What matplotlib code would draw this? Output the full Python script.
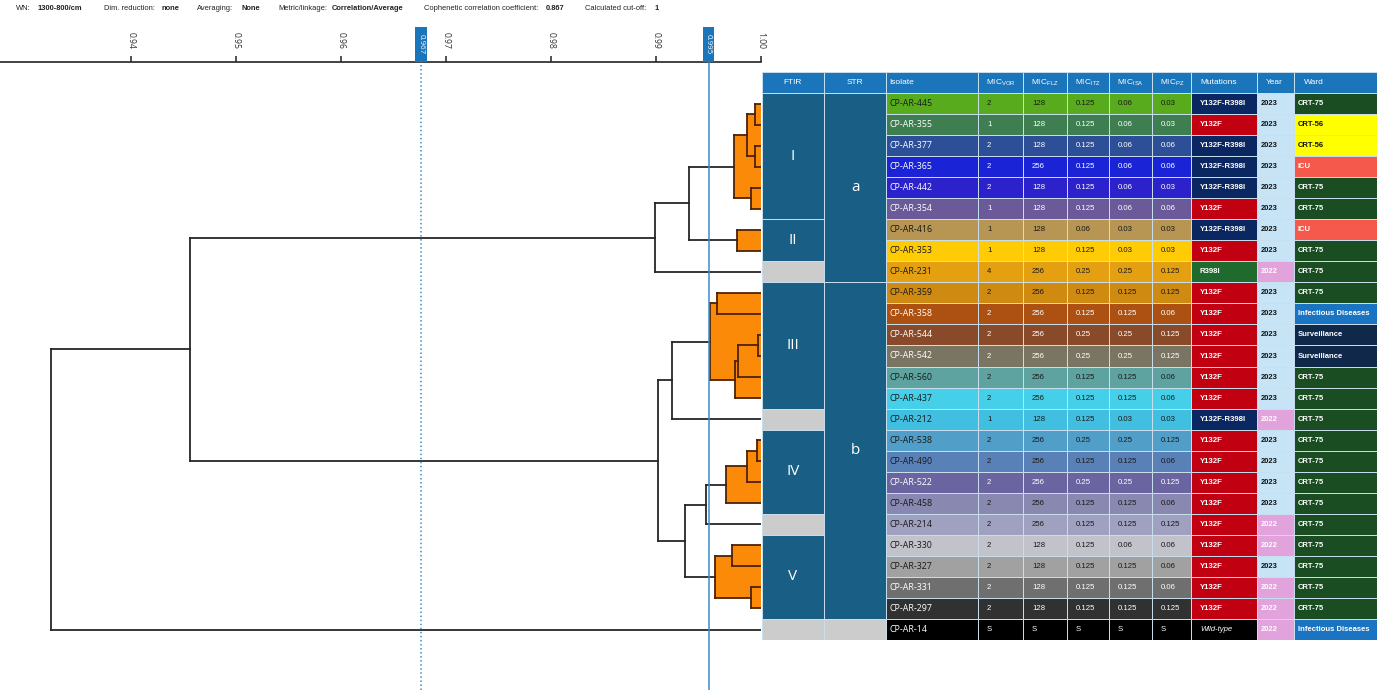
import matplotlib
matplotlib.use("Agg")
import matplotlib.pyplot as plt
from matplotlib.patches import Rectangle
from matplotlib.transforms import blended_transform_factory
from itertools import groupby

plt.rcParams['font.family'] = ['Liberation Sans', 'DejaVu Sans']
plt.rcParams['mathtext.default'] = 'regular'

# ---------------- data ----------------
isolates = ["CP-AR-445", "CP-AR-355", "CP-AR-377", "CP-AR-365", "CP-AR-442", "CP-AR-354",
            "CP-AR-416", "CP-AR-353", "CP-AR-231", "CP-AR-359", "CP-AR-358", "CP-AR-544",
            "CP-AR-542", "CP-AR-560", "CP-AR-437", "CP-AR-212", "CP-AR-538", "CP-AR-490",
            "CP-AR-522", "CP-AR-458", "CP-AR-214", "CP-AR-330", "CP-AR-327", "CP-AR-331",
            "CP-AR-297", "CP-AR-14"]
mic_vor = ["2", "1", "2", "2", "2", "1", "1", "1", "4", "2", "2", "2", "2", "2", "2", "1",
           "2", "2", "2", "2", "2", "2", "2", "2", "2", "S"]
mic_flz = ["128", "128", "128", "256", "128", "128", "128", "128", "256", "256", "256", "256",
           "256", "256", "256", "128", "256", "256", "256", "256", "256", "128", "128", "128",
           "128", "S"]
mic_itz = ["0.125", "0.125", "0.125", "0.125", "0.125", "0.125", "0.06", "0.125", "0.25",
           "0.125", "0.125", "0.25", "0.25", "0.125", "0.125", "0.125", "0.25", "0.125",
           "0.25", "0.125", "0.125", "0.125", "0.125", "0.125", "0.125", "S"]
mic_isa = ["0.06", "0.06", "0.06", "0.06", "0.06", "0.06", "0.03", "0.03", "0.25", "0.125",
           "0.125", "0.25", "0.25", "0.125", "0.125", "0.03", "0.25", "0.125", "0.25", "0.125",
           "0.125", "0.06", "0.125", "0.125", "0.125", "S"]
mic_pz = ["0.03", "0.03", "0.06", "0.06", "0.03", "0.06", "0.03", "0.03", "0.125", "0.125",
          "0.06", "0.125", "0.125", "0.06", "0.06", "0.03", "0.125", "0.06", "0.125", "0.06",
          "0.125", "0.06", "0.06", "0.06", "0.125", "S"]
mutations = ["Y132F-R398I", "Y132F", "Y132F-R398I", "Y132F-R398I", "Y132F-R398I", "Y132F",
             "Y132F-R398I", "Y132F", "R398I", "Y132F", "Y132F", "Y132F", "Y132F", "Y132F",
             "Y132F", "Y132F-R398I", "Y132F", "Y132F", "Y132F", "Y132F", "Y132F", "Y132F",
             "Y132F", "Y132F", "Y132F", "Wild-type"]
years = ["2023", "2023", "2023", "2023", "2023", "2023", "2023", "2023", "2022", "2023",
         "2023", "2023", "2023", "2023", "2023", "2022", "2023", "2023", "2023", "2023",
         "2022", "2022", "2023", "2022", "2022", "2022"]
wards = ["CRT-75", "CRT-56", "CRT-56", "ICU", "CRT-75", "CRT-75", "ICU", "CRT-75", "CRT-75",
         "CRT-75", "Infectious Diseases", "Surveillance", "Surveillance", "CRT-75", "CRT-75",
         "CRT-75", "CRT-75", "CRT-75", "CRT-75", "CRT-75", "CRT-75", "CRT-75", "CRT-75",
         "CRT-75", "CRT-75", "Infectious Diseases"]
ftir = ["I"] * 6 + ["II"] * 2 + [""] + ["III"] * 6 + [""] + ["IV"] * 4 + [""] + ["V"] * 4 + [""]
str_grp = ["a"] * 9 + ["b"] * 16 + [""]

# dendrogram: (child_a, child_b, merge similarity); leaves are 0..25, new nodes from 26
merges = [
    (0, 1, 0.99943), (2, 3, 0.99943), (26, 27, 0.99867), (4, 5, 0.99905),
    (28, 29, 0.99743), (6, 7, 0.99771), (30, 31, 0.99310), (32, 8, 0.98990),
    (11, 12, 0.99971), (34, 13, 0.99781), (35, 14, 0.99752), (9, 10, 0.99581),
    (37, 36, 0.99514), (38, 15, 0.99152), (16, 17, 0.99962), (40, 18, 0.99867),
    (41, 19, 0.99667), (42, 20, 0.99476), (21, 22, 0.99724), (23, 24, 0.99905),
    (44, 45, 0.99562), (43, 46, 0.99276), (39, 47, 0.99019), (33, 48, 0.94562),
    (49, 25, 0.93240),
]
cutoff_pos = [0.9676, 0.995]
cutoff_labels = ["0.967", "0.995"]
xticks = [0.94, 0.95, 0.96, 0.97, 0.98, 0.99, 1.00]

header_info = [("WN:", False), ("1300-800/cm", True), ("Dim. reduction:", False), ("none", True),
               ("Averaging:", False), ("None", True), ("Metric/linkage:", False),
               ("Correlation/Average", True), ("Cophenetic correlation coefficient:", False),
               ("0.867", True), ("Calculated cut-off:", False), ("1", True)]

# ---------------- styles ----------------
row_colors = ["#58ab1c", "#3e7e50", "#2c4f98", "#1a24d6", "#2c22cc", "#6b5a9a", "#b79552",
              "#ffcb05", "#e4a011", "#cf8a12", "#ad5112", "#894a2a", "#7a7462", "#5fa3a1",
              "#46cfe8", "#41bfe0", "#519fc8", "#5a80b8", "#6a65a0", "#8888b0", "#a0a0c0",
              "#c2c2ca", "#a1a1a1", "#6f6f6f", "#313131", "#000000"]
row_text = ["#1a1a1a", "w", "w", "w", "w", "w", "#1a1a1a", "#1a1a1a", "#1a1a1a", "#1a1a1a",
            "w", "w", "w", "#1a1a1a", "#1a1a1a", "#1a1a1a", "#1a1a1a", "#1a1a1a", "w",
            "#1a1a1a", "#1a1a1a", "#1a1a1a", "#1a1a1a", "w", "w", "w"]
mut_colors = {"Y132F-R398I": "#0b2761", "Y132F": "#c10012", "R398I": "#1f6b2d", "Wild-type": "#000000"}
year_style = {"2023": ("#c6e4f5", "#111111"), "2022": ("#e2a2dc", "white")}
ward_style = {"CRT-75": ("#1a4d21", "white"), "CRT-56": ("#ffff00", "#111111"),
              "ICU": ("#f4594b", "white"), "Infectious Diseases": ("#1b74c1", "white"),
              "Surveillance": ("#10294b", "white")}
HEAD_BG = "#1b75bb"
BLOCK = "#195e84"
GREY = "#cccccc"
GRID = "#c9dfee"
ORANGE = "#fb8a08"
BROWN = "#4e2204"
LINE = "#262626"
CUTC = "#3a8dc9"

W, H = 1377, 693
fig = plt.figure(figsize=(W / 100, H / 100), dpi=100)


def rect(x0, y0, x1, y1):
    return [x0 / W, 1 - y1 / H, (x1 - x0) / W, (y1 - y0) / H]


ROW0, RH = 93.0, 21.04

# ---------------- top info line ----------------
info_x = [16, 38, 104, 162, 197, 241, 278, 332, 424, 546, 585, 655]
for (t, b), xp in zip(header_info, info_x):
    fig.text(xp / W, 1 - 9 / H, t, fontsize=5.4, fontweight='bold' if b else 'normal',
             color='#222222', va='center', ha='left')

# ---------------- dendrogram ----------------
ax = fig.add_axes(rect(0, 62, 761, 690))
x_left = 0.94 - 131 / 10500
ax.set_xlim(x_left, 1.0)
ax.set_ylim((690 - ROW0) / RH, (62 - ROW0) / RH)

n = len(isolates)
pos = {i: (i + 0.5, 1.0) for i in range(n)}
for k, (a, b, h) in enumerate(merges):
    pos[n + k] = ((pos[a][0] + pos[b][0]) / 2, h)

cut = max(cutoff_pos)
for k, (a, b, h) in enumerate(merges):
    ya, _ = pos[a]
    yb, _ = pos[b]
    if h > cut:
        ax.fill_between([h, 1.0], min(ya, yb), max(ya, yb), color=ORANGE, lw=0, zorder=1)
for k, (a, b, h) in enumerate(merges):
    ya, ha_ = pos[a]
    yb, hb = pos[b]
    c = BROWN if h > cut else LINE
    ax.plot([h, h], [ya, yb], color=c, lw=1.3, zorder=3, solid_capstyle='projecting')
    ax.plot([h, ha_], [ya, ya], color=c, lw=1.3, zorder=3)
    ax.plot([h, hb], [yb, yb], color=c, lw=1.3, zorder=3)

for s in ['left', 'right', 'bottom']:
    ax.spines[s].set_visible(False)
ax.spines['top'].set_color('#222222')
ax.spines['top'].set_linewidth(1.2)
ax.xaxis.tick_top()
ax.set_xticks(xticks)
ax.set_xticklabels([f"{v:.2f}" for v in xticks])
ax.tick_params(axis='x', direction='out', length=4.5, width=1.1, color='#222222',
               labelsize=6.2, labelcolor='#333333', labelrotation=-90, pad=5)
ax.set_yticks([])
for lab in ax.get_xticklabels():
    lab.set_family(['Open Sans', 'DejaVu Sans'])

bt = blended_transform_factory(ax.transData, ax.transAxes)
for cv, cl in zip(cutoff_pos, cutoff_labels):
    ls = ':' if cv < cut else '-'
    ax.axvline(cv, color=CUTC, lw=1.1, ls=ls, zorder=4)
    wdat = 12 / 10500
    ax.add_patch(Rectangle((cv - wdat / 2, 1.0), wdat, 35 / 628, transform=bt,
                           facecolor=HEAD_BG, edgecolor='none', clip_on=False, zorder=5))
    ax.text(cv, 1.0 + 17.5 / 628, cl, transform=bt, rotation=-90, ha='center',
            va='center', color='white', fontsize=5.8, zorder=6,
            family=['Open Sans', 'DejaVu Sans'])

# ---------------- table ----------------
tx = fig.add_axes(rect(762, 72, 1377, 640))
tx.set_xlim(0, 615)
tx.set_ylim(n, -1)
tx.axis('off')
col_edges = [0, 62, 124, 216, 261, 305, 347, 390, 429, 495, 532, 615]
headers = ["FTIR", "STR", "Isolate", r"MIC$_{VOR}$", r"MIC$_{FLZ}$", r"MIC$_{ITZ}$",
           r"MIC$_{ISA}$", r"MIC$_{PZ}$", "Mutations", "Year", "Ward"]
head_off = [None, None, 3, 8, 8, 8, 8, 8, 9, 9, 10]


def cell(c0, c1, r0, r1, fc):
    tx.add_patch(Rectangle((c0, r0), c1 - c0, r1 - r0, facecolor=fc, edgecolor=GRID, lw=0.7))


for j, hname in enumerate(headers):
    c0, c1 = col_edges[j], col_edges[j + 1]
    cell(c0, c1, -1, 0, HEAD_BG)
    if head_off[j] is None:
        tx.text((c0 + c1) / 2, -0.5, hname, ha='center', va='center', color='white', fontsize=6)
    else:
        tx.text(c0 + head_off[j], -0.5, hname, ha='left', va='center', color='white', fontsize=6)

# FTIR & STR blocks
for col, groups in [(0, ftir), (1, str_grp)]:
    c0, c1 = col_edges[col], col_edges[col + 1]
    r = 0
    for key, grp in groupby(groups):
        L = len(list(grp))
        if key == "":
            for q in range(L):
                cell(c0, c1, r + q, r + q + 1, GREY)
        else:
            cell(c0, c1, r, r + L, BLOCK)
            tx.text((c0 + c1) / 2, r + L / 2, key, ha='center', va='center', color='white',
                    fontsize=11, family=['Open Sans', 'DejaVu Sans'])
        r += L

mic_cols = [mic_vor, mic_flz, mic_itz, mic_isa, mic_pz]
for i in range(n):
    y = i + 0.5
    for j in range(2, 8):
        cell(col_edges[j], col_edges[j + 1], i, i + 1, row_colors[i])
    tx.text(col_edges[2] + 3, y, isolates[i], ha='left', va='center', color=row_text[i],
            fontsize=6.4, family=['Open Sans', 'DejaVu Sans'])
    for m, vals in enumerate(mic_cols):
        tx.text(col_edges[3 + m] + 9, y, vals[i], ha='left', va='center', color=row_text[i],
                fontsize=5.6)
    cell(col_edges[8], col_edges[9], i, i + 1, mut_colors[mutations[i]])
    wt = mutations[i] == "Wild-type"
    tx.text(col_edges[8] + 9, y, mutations[i], ha='left', va='center', color='white',
            fontsize=5.6, fontweight='normal' if wt else 'bold',
            fontstyle='italic' if wt else 'normal')
    fc, tc = year_style[years[i]]
    cell(col_edges[9], col_edges[10], i, i + 1, fc)
    tx.text(col_edges[9] + 4, y, years[i], ha='left', va='center', color=tc, fontsize=5.4,
            fontweight='bold')
    fc, tc = ward_style[wards[i]]
    cell(col_edges[10], col_edges[11], i, i + 1, fc)
    tx.text(col_edges[10] + 4, y, wards[i], ha='left', va='center', color=tc, fontsize=5.5,
            fontweight='bold')

fig.savefig("out.png", dpi=100)
